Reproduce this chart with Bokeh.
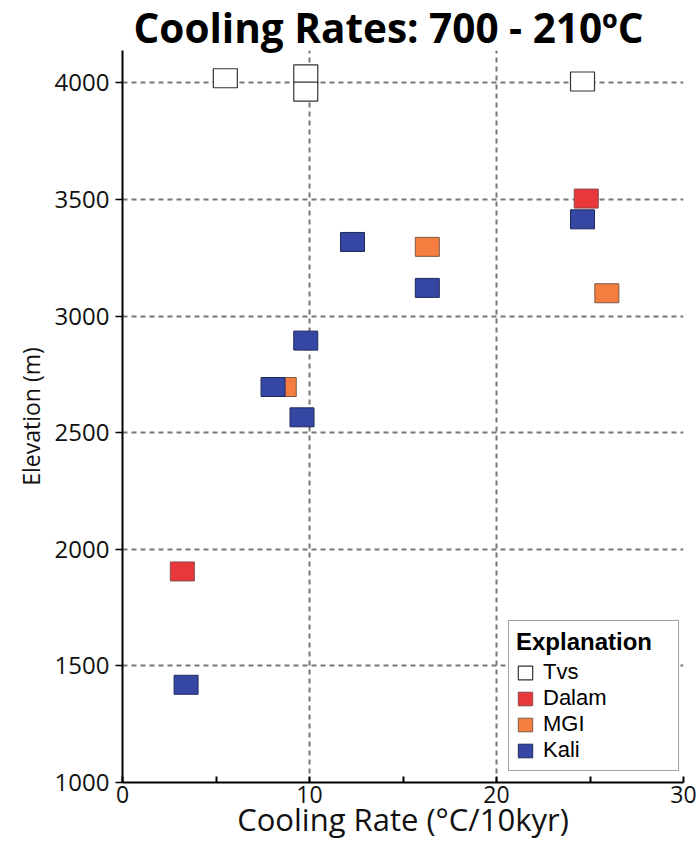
from bokeh.plotting import figure
from bokeh.models import Range1d, FixedTicker, Legend, LegendItem
from bokeh.embed import file_html
from bokeh.resources import INLINE

# ---- data ----
tvs_x = [5.5, 9.8, 9.8, 24.6]
tvs_y = [4020, 4037, 3963, 4006]
dalam_x = [3.2, 24.8]
dalam_y = [1905, 3504]
mgi_x = [16.3, 25.9, 8.65]
mgi_y = [3297, 3098, 2696]
kali_x = [24.6, 12.3, 16.3, 9.8, 8.05, 9.6, 3.4]
kali_y = [3415, 3318, 3121, 2895, 2696, 2566, 1419]

x_ticks = [0, 10, 20, 30]
x_minor = [5, 15, 25]
y_ticks = [1000, 1500, 2000, 2500, 3000, 3500, 4000]
grid_x = [10, 20]
grid_y = [1500, 2000, 2500, 3000, 3500, 4000]

FONT = "Open Sans"
LFONT = "Liberation Sans"

p = figure(width=700, height=850, output_backend="svg", toolbar_location=None,
           x_range=Range1d(0, 30), y_range=Range1d(1000, 4139),
           min_border_left=122, min_border_right=17, min_border_top=50, min_border_bottom=68)
p.outline_line_color = None
p.background_fill_color = "white"

p.title.text = "Cooling Rates: 700 - 210\u00baC"
p.title.text_font = FONT
p.title.text_font_size = "40.5px"
p.title.text_font_style = "bold"
p.title.text_color = "black"
p.title.align = "left"
p.title.offset = 11
p.title.standoff = -8

# grids
p.xgrid.ticker = FixedTicker(ticks=grid_x)
p.ygrid.ticker = FixedTicker(ticks=grid_y)
for g in (p.xgrid, p.ygrid):
    g.grid_line_color = "#777777"
    g.grid_line_width = 2
    g.grid_line_dash = "5 4"

# axes
xa = p.xaxis[0]
xa.ticker = FixedTicker(ticks=x_ticks, minor_ticks=x_minor)
xa.axis_label = "Cooling Rate (\u00b0C/10kyr)"
xa.axis_label_text_font = FONT
xa.axis_label_text_font_size = "31px"
xa.axis_label_text_font_style = "normal"
xa.axis_label_text_color = "#111111"
xa.axis_label_standoff = -8
xa.major_label_text_font = FONT
xa.major_label_text_font_size = "23px"
xa.major_label_text_color = "#111111"
xa.major_label_standoff = 3
xa.major_tick_in = 6
xa.major_tick_out = 0
xa.minor_tick_in = 6
xa.minor_tick_out = 0
xa.axis_line_width = 2
xa.major_tick_line_width = 2
xa.minor_tick_line_width = 2

ya = p.yaxis[0]
ya.ticker = FixedTicker(ticks=y_ticks)
ya.axis_label = "Elevation (m)"
ya.axis_label_text_font = FONT
ya.axis_label_text_font_size = "23px"
ya.axis_label_text_font_style = "normal"
ya.axis_label_text_color = "#111111"
ya.axis_label_standoff = 5
ya.major_label_text_font = FONT
ya.major_label_text_font_size = "24px"
ya.major_label_text_color = "#111111"
ya.major_label_standoff = 6
ya.major_tick_in = 0
ya.major_tick_out = 7
ya.minor_tick_line_color = None
ya.axis_line_width = 2
ya.major_tick_line_width = 1.5

W, H = 24, 19
r_tvs = p.rect(tvs_x, tvs_y, width=W, height=H, width_units="screen", height_units="screen",
               fill_color="white", line_color="#333333", line_width=1.2)
r_dal = p.rect(dalam_x, dalam_y, width=W, height=H, width_units="screen", height_units="screen",
               fill_color="#e8383a", line_color="#8a4a4a", line_width=1)
r_mgi = p.rect(mgi_x, mgi_y, width=W, height=H, width_units="screen", height_units="screen",
               fill_color="#f47d3f", line_color="#7d5a46", line_width=1)
r_kal = p.rect(kali_x, kali_y, width=W, height=H, width_units="screen", height_units="screen",
               fill_color="#3547a3", line_color="#1f2a5c", line_width=1)

legend = Legend(items=[LegendItem(label="Tvs", renderers=[r_tvs]),
                       LegendItem(label="Dalam", renderers=[r_dal]),
                       LegendItem(label="MGI", renderers=[r_mgi]),
                       LegendItem(label="Kali", renderers=[r_kal])],
                location=(386, 11), margin=0)
legend.title = "Explanation"
legend.title_text_font = LFONT
legend.title_text_font_size = "24px"
legend.title_text_font_style = "bold"
legend.title_text_color = "black"
legend.title_standoff = 3
legend.label_text_font = LFONT
legend.label_text_font_size = "22px"
legend.label_text_color = "black"
legend.glyph_width = 18
legend.glyph_height = 17
legend.label_height = 17
legend.label_width = 128
legend.label_standoff = 9
legend.spacing = 0
legend.padding = 7
legend.border_line_color = "#444444"
legend.border_line_width = 1.5
legend.background_fill_alpha = 1
p.add_layout(legend, "center")

open("out.html", "w").write(file_html(p, INLINE))
